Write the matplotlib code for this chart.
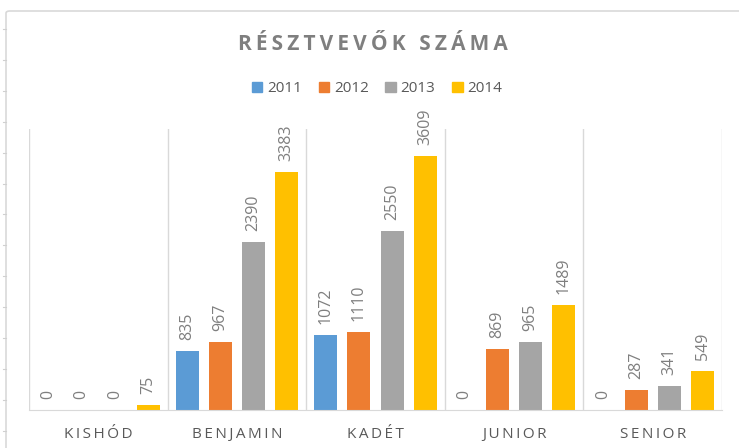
import numpy as np
import matplotlib.pyplot as plt
from matplotlib.patches import FancyBboxPatch, Rectangle
from matplotlib.lines import Line2D

# data
categories = ['KISHÓD', 'BENJAMIN', 'KADÉT', 'JUNIOR', 'SENIOR']
years = ['2011', '2012', '2013', '2014']
v2011 = [0, 835, 1072, 0, 0]
v2012 = [0, 967, 1110, 869, 287]
v2013 = [0, 2390, 2550, 965, 341]
v2014 = [75, 3383, 3609, 1489, 549]
colors = ['#5B9BD5', '#ED7D31', '#A5A5A5', '#FFC000']

plt.rcParams['font.family'] = ['Open Sans', 'DejaVu Sans']

fig = plt.figure(figsize=(7.39, 4.48), dpi=100)
W, H = 739, 448

# chart frame (cut off at the right/bottom like the screenshot)
frame = FancyBboxPatch((6 / W, -0.1), 1.2, (H - 11) / H + 0.1,
                       boxstyle='round,pad=0,rounding_size=0.005',
                       transform=fig.transFigure, fc='white',
                       ec='#D9D9D9', lw=1.2, zorder=-5)
fig.patches.append(frame)
# ruler ticks at the left edge
for yy in np.arange(29, 448, 30.9):
    fig.add_artist(Line2D([3 / W, 6 / W], [1 - yy / H, 1 - yy / H],
                          color='#D0D0D0', lw=0.8))

ax = fig.add_axes([29 / W, 38 / H, (722 - 29) / W, (410 - 129) / H])
ax.set_zorder(2)
ax.patch.set_visible(False)
x = np.arange(len(categories))
step = 0.24
width = 0.166
series = [v2011, v2012, v2013, v2014]
for i, (vals, c) in enumerate(zip(series, colors)):
    pos = x + (i - 1.5) * step
    ax.bar(pos, vals, width, color=c, zorder=2)
    for px, v in zip(pos, vals):
        ax.annotate(str(v), (px, v), xytext=(0, 8), textcoords='offset points',
                    rotation=90, ha='center', va='bottom', fontsize=11.5,
                    color='#7F7F7F')

ax.set_xlim(-0.5, len(categories) - 0.5)
ax.set_ylim(0, 4000)
for s in ['top', 'right', 'left']:
    ax.spines[s].set_visible(False)
ax.spines['bottom'].set_color('#D9D9D9')
for b in np.arange(-0.5, len(categories), 1):
    ax.axvline(b, color='#D9D9D9', lw=1, zorder=1)
ax.set_yticks([])
ax.set_xticks(x)
ax.set_xticklabels(['\u2009'.join(c) for c in categories], fontsize=11,
                   color='#595959')
ax.tick_params(axis='x', length=0, pad=12)

fig.text(373 / W, 1 - 45 / H, '\u2009'.join('RÉSZTVEVŐK SZÁMA'), ha='center',
         va='center', fontsize=15, fontweight='bold', color='#7F7F7F')

# legend
handles = [Rectangle((0, 0), 1, 1, color=c) for c in colors]
fig.legend(handles, years, loc='center', bbox_to_anchor=(377 / W, 1 - 89 / H),
           ncol=4, frameon=False, fontsize=11, handlelength=0.7,
           handleheight=0.7, handletextpad=0.3, columnspacing=1.1,
           labelcolor='#595959')

fig.savefig('out.png', dpi=100)
